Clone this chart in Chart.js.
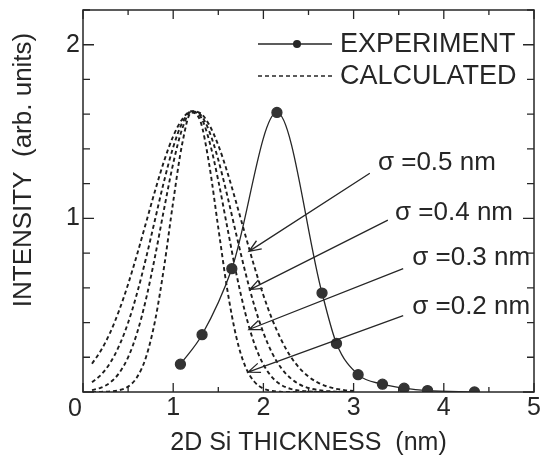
<!DOCTYPE html>
<html>
<head>
<meta charset="utf-8">
<script src="https://cdn.jsdelivr.net/npm/chart.js@4"></script>
<style>
  html, body { margin: 0; padding: 0; background: #fff; }
  #wrap { width: 541px; height: 463px; }
</style>
</head>
<body>
<div id="wrap"><canvas id="chart"></canvas></div>
<script>
// experiment (filled dots)
const expX = [1.08, 1.32, 1.65, 2.15, 2.65, 2.81, 3.05, 3.32, 3.56, 3.82, 4.34];
const expY = [0.16, 0.33, 0.71, 1.61, 0.57, 0.28, 0.10, 0.045, 0.022, 0.008, 0.0];

// calculated curves, sampled every 0.1 nm
const calcX = [0.1, 0.2, 0.3, 0.4, 0.5, 0.6, 0.7, 0.8, 0.9, 1.0,
               1.1, 1.2, 1.3, 1.4, 1.5, 1.6, 1.7, 1.8, 1.9, 2.0,
               2.1, 2.2, 2.3, 2.4, 2.5, 2.6, 2.7, 2.8, 2.9, 3.0];
const calc02 = [0.000, 0.001, 0.003, 0.010, 0.031, 0.086, 0.203, 0.413, 0.724, 1.096,
                1.430, 1.609, 1.562, 1.308, 0.945, 0.589, 0.316, 0.146, 0.059, 0.020,
                0.006, 0.001, 0, 0, 0, 0, 0, 0, 0, 0];
const calc03 = [0.011, 0.025, 0.054, 0.109, 0.200, 0.341, 0.538, 0.784, 1.057, 1.316,
                1.516, 1.614, 1.589, 1.446, 1.217, 0.947, 0.681, 0.453, 0.278, 0.158,
                0.083, 0.040, 0.018, 0.008, 0.003, 0.001, 0, 0, 0, 0];
const calc04 = [0.056, 0.099, 0.167, 0.265, 0.399, 0.570, 0.774, 0.996, 1.217, 1.410,
                1.550, 1.616, 1.599, 1.501, 1.337, 1.130, 0.906, 0.689, 0.497, 0.341,
                0.221, 0.136, 0.080, 0.044, 0.023, 0.012, 0.006, 0.002, 0.001, 0];
const calc05 = [0.163, 0.240, 0.341, 0.469, 0.621, 0.793, 0.977, 1.161, 1.332, 1.473,
                1.571, 1.617, 1.606, 1.538, 1.421, 1.266, 1.088, 0.903, 0.722, 0.557,
                0.415, 0.298, 0.206, 0.138, 0.089, 0.055, 0.033, 0.019, 0.011, 0.006];

const xTickLabels = [1, 2, 3, 4, 5];
const yTickLabels = [1, 2];
const sigmaLabels = ['σ =0.5 nm', 'σ =0.4 nm', 'σ =0.3 nm', 'σ =0.2 nm'];

const INK = '#262626';
const FONT = '"Liberation Sans", Arial, sans-serif';

const pts = (xs, ys) => xs.map((x, i) => ({ x: x, y: ys[i] }));

const calcStyle = {
  showLine: true,
  pointRadius: 0,
  borderColor: '#1e1e1e',
  borderWidth: 1.9,
  borderDash: [4, 3],
  cubicInterpolationMode: 'monotone'
};

// annotation arrows: [text x, text y, arrow start x, y, tip x, y] in data units
const sigmaPos = [
  [3.27, 1.32, 3.18, 1.26, 1.84, 0.81],
  [3.46, 1.03, 3.38, 0.99, 1.85, 0.59],
  [3.65, 0.77, 3.55, 0.71, 1.84, 0.36],
  [3.65, 0.49, 3.55, 0.44, 1.83, 0.115]
];

const decor = {
  id: 'decor',
  afterDraw(chart) {
    const c = chart.ctx;
    const a = chart.chartArea;
    const xs = chart.scales.x, ys = chart.scales.y;
    c.save();
    c.strokeStyle = INK;
    c.fillStyle = INK;
    c.lineWidth = 1.5;
    c.strokeRect(a.left, a.top, a.right - a.left, a.bottom - a.top);

    // inward ticks
    c.lineWidth = 1.3;
    c.beginPath();
    xs.ticks.forEach(t => {
      const px = xs.getPixelForValue(t.value);
      const len = Number.isInteger(t.value) ? 9 : 5;
      c.moveTo(px, a.bottom); c.lineTo(px, a.bottom - len);
      c.moveTo(px, a.top); c.lineTo(px, a.top + len);
    });
    ys.ticks.forEach(t => {
      const py = ys.getPixelForValue(t.value);
      const major = Math.abs(t.value - Math.round(t.value)) < 1e-6;
      const len = major ? 11 : 7;
      c.moveTo(a.left, py); c.lineTo(a.left + len, py);
      c.moveTo(a.right, py); c.lineTo(a.right - len, py);
    });
    c.stroke();

    // shared origin label
    c.font = '25px ' + FONT;
    c.textAlign = 'center';
    c.textBaseline = 'middle';
    c.fillText('0', 75, 409);

    // y title
    c.save();
    c.translate(24, 170);
    c.rotate(-Math.PI / 2);
    c.font = '26px ' + FONT;
    c.fillText('INTENSITY  (arb. units)', 0, 0);
    c.restore();

    // legend
    c.lineWidth = 1.3;
    c.beginPath();
    c.moveTo(258, 44); c.lineTo(332, 44);
    c.stroke();
    c.beginPath();
    c.arc(297, 44, 4, 0, Math.PI * 2);
    c.fill();
    c.setLineDash([4, 3]);
    c.lineWidth = 1.6;
    c.beginPath();
    c.moveTo(258, 76); c.lineTo(332, 76);
    c.stroke();
    c.setLineDash([]);
    c.font = '27px ' + FONT;
    c.textAlign = 'left';
    c.fillText('EXPERIMENT', 340, 45);
    c.fillText('CALCULATED', 340, 77);

    // sigma labels with arrows
    c.font = '26px ' + FONT;
    c.lineWidth = 1.3;
    sigmaPos.forEach((p, i) => {
      const tx = xs.getPixelForValue(p[0]), ty = ys.getPixelForValue(p[1]);
      const sx = xs.getPixelForValue(p[2]), sy = ys.getPixelForValue(p[3]);
      const ex = xs.getPixelForValue(p[4]), ey = ys.getPixelForValue(p[5]);
      c.fillText(sigmaLabels[i], tx, ty);
      c.beginPath();
      c.moveTo(sx, sy); c.lineTo(ex, ey);
      const ang = Math.atan2(ey - sy, ex - sx);
      const hl = 13, hw = 0.38;
      c.moveTo(ex - hl * Math.cos(ang - hw), ey - hl * Math.sin(ang - hw));
      c.lineTo(ex, ey);
      c.lineTo(ex - hl * Math.cos(ang + hw), ey - hl * Math.sin(ang + hw));
      c.stroke();
    });
    c.restore();
  }
};

new Chart(document.getElementById('chart'), {
  type: 'scatter',
  data: {
    datasets: [
      {
        label: 'EXPERIMENT',
        data: pts(expX, expY),
        showLine: true,
        borderColor: INK,
        borderWidth: 1.3,
        pointRadius: 5,
        pointBackgroundColor: '#333',
        pointBorderColor: '#333',
        cubicInterpolationMode: 'monotone'
      },
      Object.assign({ label: 'CALCULATED', data: pts(calcX, calc02) }, calcStyle),
      Object.assign({ label: 'calc03', data: pts(calcX, calc03) }, calcStyle),
      Object.assign({ label: 'calc04', data: pts(calcX, calc04) }, calcStyle),
      Object.assign({ label: 'calc05', data: pts(calcX, calc05) }, calcStyle)
    ]
  },
  options: {
    responsive: true,
    maintainAspectRatio: false,
    animation: false,
    layout: { padding: { top: 10, right: 7, left: 0, bottom: 0 } },
    plugins: {
      legend: { display: false },
      tooltip: { enabled: false }
    },
    scales: {
      x: {
        type: 'linear',
        min: 0,
        max: 5,
        grid: { display: false, drawTicks: false },
        border: { display: false },
        ticks: {
          stepSize: 0.5,
          autoSkip: false,
          maxRotation: 0,
          padding: 1,
          color: INK,
          font: { size: 25, family: FONT },
          callback: v => xTickLabels.includes(v) ? String(v) : ''
        },
        title: {
          display: true,
          text: '2D Si THICKNESS  (nm)',
          color: INK,
          font: { size: 25, family: FONT },
          padding: { top: 0, bottom: 5 }
        },
        afterFit: s => { s.height = 71; s.paddingLeft = 0; s.paddingRight = 0; }
      },
      y: {
        min: 0,
        max: 2.2,
        grid: { display: false, drawTicks: false },
        border: { display: false },
        ticks: {
          stepSize: 0.2,
          autoSkip: false,
          padding: 3,
          color: INK,
          font: { size: 25, family: FONT },
          callback: v => yTickLabels.some(k => Math.abs(k - v) < 1e-6) ? String(Math.round(v)) : ''
        },
        afterFit: s => { s.width = 83; s.paddingTop = 0; s.paddingBottom = 0; }
      }
    }
  },
  plugins: [decor]
});
</script>
</body>
</html>
